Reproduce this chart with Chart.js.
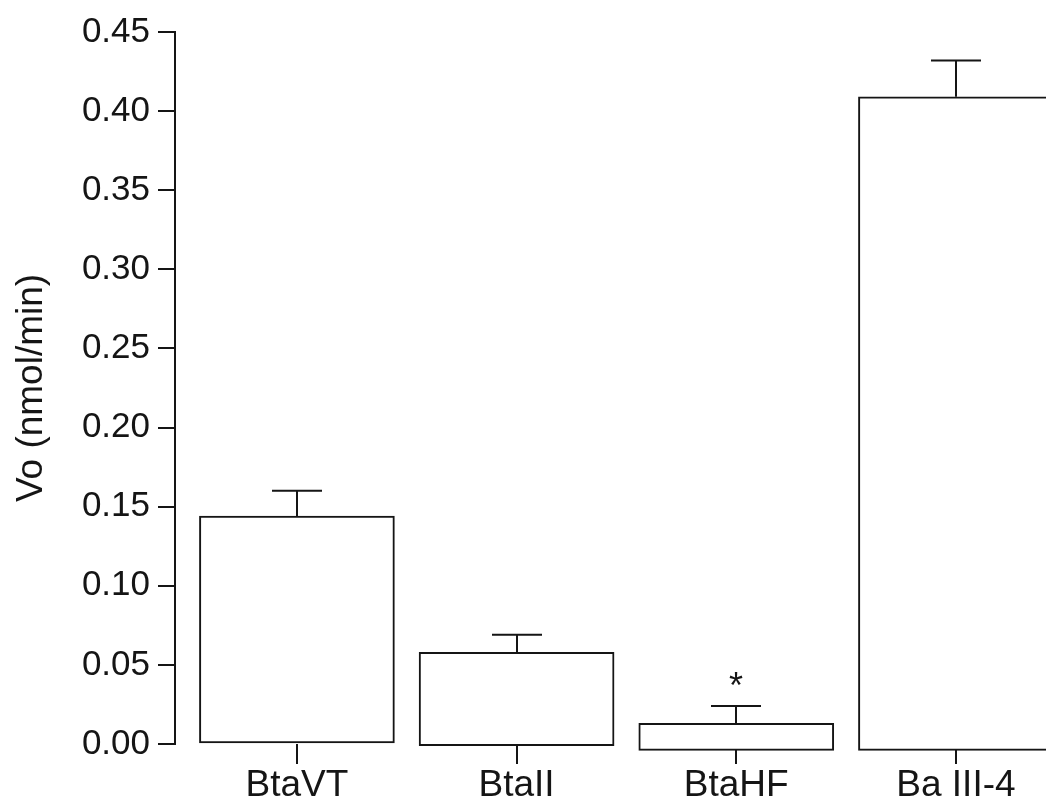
<!DOCTYPE html>
<html>
<head>
<meta charset="utf-8">
<script src="https://cdn.jsdelivr.net/npm/chart.js@4.4.0/dist/chart.umd.min.js"></script>
<style>
  html, body { margin: 0; padding: 0; background: #fff; overflow: hidden; }
  #wrap { position: relative; width: 1046px; height: 805px; }
</style>
</head>
<body>
<div id="wrap"><canvas id="chart"></canvas></div>
<script>
// Initial velocity per enzyme (mean and SEM)
const categories = ['BtaVT', 'BtaII', 'BtaHF', 'Ba III-4'];
const vo = [0.144, 0.058, 0.013, 0.409];
const sem = [0.016, 0.011, 0.011, 0.023];
const barBase = [0, -0.001, -0.004, -0.004];
const marks = ['', '', '*', ''];
const yTicks = [0.00, 0.05, 0.10, 0.15, 0.20, 0.25, 0.30, 0.35, 0.40, 0.45];

const INK = '#151515';
const FONT = 'Liberation Sans, Arial, sans-serif';

// Error bars, significance marks
const errorBars = {
  id: 'errorBars',
  afterDatasetsDraw(chart) {
    const { ctx, scales: { y } } = chart;
    const meta = chart.getDatasetMeta(0);
    ctx.save();
    ctx.strokeStyle = INK;
    ctx.lineWidth = 2;
    meta.data.forEach((bar, i) => {
      const x = Math.round(bar.x);
      const yTop = y.getPixelForValue(vo[i]);
      const yErr = y.getPixelForValue(vo[i] + sem[i]);
      ctx.beginPath();
      ctx.moveTo(x, yTop);
      ctx.lineTo(x, yErr);
      ctx.moveTo(x - 25, yErr);
      ctx.lineTo(x + 25, yErr);
      ctx.stroke();
      if (marks[i]) {
        ctx.fillStyle = INK;
        ctx.font = '36px ' + FONT;
        ctx.textAlign = 'center';
        ctx.textBaseline = 'top';
        ctx.fillText(marks[i], x, yErr - 36);
      }
    });
    ctx.restore();
  }
};

new Chart(document.getElementById('chart'), {
  type: 'bar',
  data: {
    datasets: [{
      data: categories.map((c, i) => ({ x: i + 1, y: [barBase[i], vo[i]] })),
      backgroundColor: '#ffffff',
      borderColor: INK,
      borderWidth: 2,
      borderSkipped: false,
      barThickness: 195,
      clip: false
    }]
  },
  options: {
    responsive: true,
    maintainAspectRatio: false,
    animation: false,
    layout: { padding: { top: 32, left: 0, right: 0, bottom: 0 } },
    plugins: { legend: { display: false }, tooltip: { enabled: false } },
    scales: {
      x: {
        type: 'linear',
        offset: false,
        min: 0.445,
        max: 4.41,
        afterBuildTicks: s => { s.ticks = categories.map((c, i) => ({ value: i + 1 })); },
        afterFit: s => { s.height = 61; },
        border: { display: false },
        grid: { offset: false, drawOnChartArea: false, drawTicks: true, tickLength: 20, color: INK, lineWidth: 2 },
        ticks: {
          autoSkip: false,
          maxRotation: 0,
          padding: 0,
          color: INK,
          font: { family: FONT, size: 37 },
          callback: v => categories[v - 1]
        }
      },
      y: {
        min: 0,
        max: 0.45,
        afterBuildTicks: s => { s.ticks = yTicks.map(v => ({ value: v })); },
        afterFit: s => { s.width = 175; },
        border: { display: true, color: INK, width: 2 },
        grid: { drawOnChartArea: false, drawTicks: true, tickLength: 17, color: INK, lineWidth: 2 },
        ticks: {
          padding: 8,
          color: INK,
          font: { family: FONT, size: 35 },
          callback: v => v.toFixed(2)
        },
        title: {
          display: true,
          text: 'Vo (nmol/min)',
          color: INK,
          font: { family: FONT, size: 37 },
          padding: { top: 10, bottom: 0 }
        }
      }
    }
  },
  plugins: [errorBars]
});
</script>
</body>
</html>
